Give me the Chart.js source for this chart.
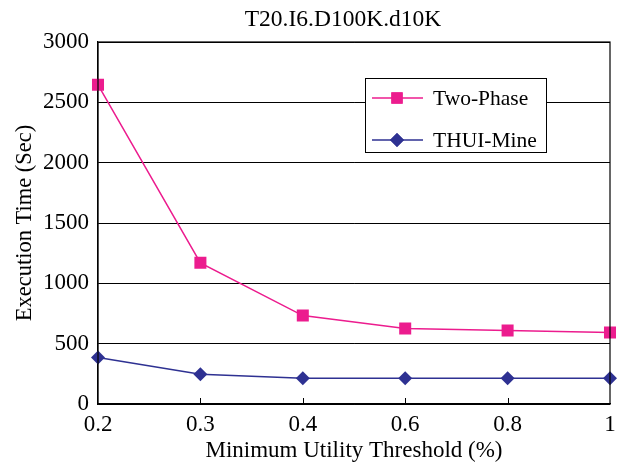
<!DOCTYPE html>
<html>
<head>
<meta charset="utf-8">
<script src="https://cdn.jsdelivr.net/npm/chart.js@4.4.0/dist/chart.umd.min.js"></script>
<style>
  html, body { margin: 0; padding: 0; background: #fff; }
  #wrap { width: 624px; height: 465px; }
</style>
</head>
<body>
<div id="wrap"><canvas id="chart" width="624" height="465"></canvas></div>
<script>
const thresholds = ['0.2', '0.3', '0.4', '0.6', '0.8', '1'];
const twoPhase = [2645, 1170, 733, 626, 610, 593];
const thuiMine = [385, 247, 214, 214, 214, 214];
const yTicks = [0, 500, 1000, 1500, 2000, 2500, 3000];

const FONT = "'Liberation Serif', 'Times New Roman', serif";
const PINK = '#EC1C8E';
const NAVY = '#2E3192';

// title, frame, inward x ticks and boxed legend
const extras = {
    id: 'extras',
    afterDraw(chart) {
        const c = chart.ctx;
        const a = chart.chartArea;
        const xs = chart.scales.x;
        c.save();
        c.strokeStyle = '#000';
        c.lineWidth = 1.2;
        c.strokeRect(a.left, a.top, a.right - a.left, a.bottom - a.top);
        c.lineWidth = 1;
        for (let i = 1; i < thresholds.length - 1; i++) {
            const px = Math.round(xs.getPixelForValue(i)) + 0.5;
            c.beginPath();
            c.moveTo(px, a.bottom);
            c.lineTo(px, a.bottom - 6);
            c.stroke();
        }

        c.fillStyle = '#000';
        c.font = '23.5px ' + FONT;
        c.textAlign = 'center';
        c.textBaseline = 'middle';
        c.fillText('T20.I6.D100K.d10K', 343, 20);

        // legend
        const lx = 365, ly = 78, lw = 181, lh = 74;
        c.fillStyle = '#fff';
        c.fillRect(lx, ly, lw, lh);
        c.strokeStyle = '#000';
        c.lineWidth = 1;
        c.strokeRect(lx + 0.5, ly + 0.5, lw, lh);
        c.font = '21.5px ' + FONT;
        const items = [
            { label: chart.data.datasets[0].label, color: PINK, style: 'rect', r: 8, y: 98 },
            { label: chart.data.datasets[1].label, color: NAVY, style: 'rectRot', r: 7, y: 140 }
        ];
        items.forEach(it => {
            c.strokeStyle = it.color;
            c.lineWidth = 1.5;
            c.beginPath();
            c.moveTo(372, it.y);
            c.lineTo(423, it.y);
            c.stroke();
            c.fillStyle = it.color;
            Chart.helpers.drawPoint(c, { pointStyle: it.style, radius: it.r, borderWidth: 0 }, 397, it.y);
            c.fill();
            c.fillStyle = '#000';
            c.textAlign = 'left';
            c.fillText(it.label, 433, it.y + 1);
        });
        c.restore();
    }
};

new Chart(document.getElementById('chart'), {
    type: 'line',
    data: {
        labels: thresholds,
        datasets: [{
            label: 'Two-Phase',
            data: twoPhase,
            borderColor: PINK,
            backgroundColor: PINK,
            borderWidth: 1.5,
            pointStyle: 'rect',
            pointRadius: 8.5,
            pointBorderWidth: 0,
            tension: 0
        }, {
            label: 'THUI-Mine',
            data: thuiMine,
            borderColor: NAVY,
            backgroundColor: NAVY,
            borderWidth: 1.5,
            pointStyle: 'rectRot',
            pointRadius: 7,
            pointBorderWidth: 0,
            tension: 0
        }]
    },
    options: {
        responsive: false,
        animation: false,
        layout: { padding: { top: 42, right: 14, left: 0, bottom: 0 } },
        plugins: { legend: { display: false }, title: { display: false }, tooltip: { enabled: false } },
        scales: {
            x: {
                offset: false,
                grid: { drawOnChartArea: false, drawTicks: false },
                border: { color: '#000', width: 1.2 },
                ticks: { color: '#000', font: { family: FONT, size: 23 }, padding: 7, maxRotation: 0 },
                title: {
                    display: true, text: 'Minimum Utility Threshold (%)', color: '#000',
                    font: { family: FONT, size: 23 }, padding: { top: 0, bottom: 0 }
                },
                afterFit(s) { s.height = 61; }
            },
            y: {
                min: 0, max: 3000,
                afterBuildTicks(s) { s.ticks = yTicks.map(v => ({ value: v })); },
                grid: { color: '#000', lineWidth: 1, drawTicks: false },
                border: { color: '#000', width: 1.2 },
                ticks: { color: '#000', font: { family: FONT, size: 23 }, padding: 9, callback: v => String(v) },
                title: {
                    display: true, text: 'Execution Time (Sec)', color: '#000',
                    font: { family: FONT, size: 22.5 }, padding: { top: 12, bottom: 0 }
                },
                afterFit(s) { s.width = 98; }
            }
        }
    },
    plugins: [extras]
});
</script>
</body>
</html>
